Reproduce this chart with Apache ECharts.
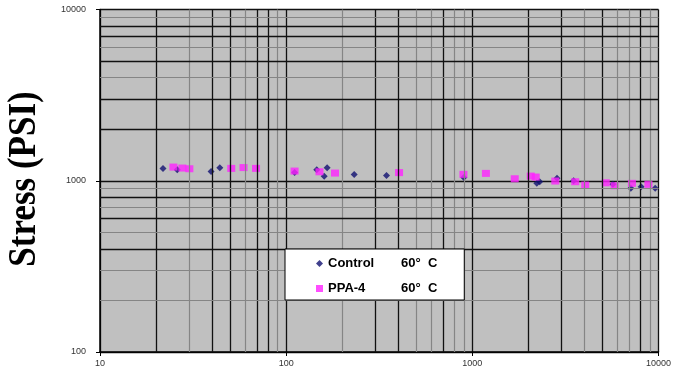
<!DOCTYPE html>
<html>
<head>
<meta charset="utf-8">
<script src="https://cdn.jsdelivr.net/npm/echarts@6/dist/echarts.min.js"></script>
<style>
html,body{margin:0;padding:0;background:#fff;}
#chart{width:674px;height:374px;}
</style>
</head>
<body>
<div id="chart"></div>
<script>
// ---- data ----
const controlX = [21.8, 26, 39.5, 44, 111, 146, 160, 166, 232, 346, 900, 2220, 2300, 2850, 3500, 5690, 7100, 8070, 9600];
const controlY = [1181, 1160, 1131, 1191, 1119, 1159, 1061, 1191, 1087, 1072, 1044, 966, 987, 1033, 1000, 953, 903, 923, 903];
const ppaX = [24.8, 27.7, 30.2, 50.7, 59, 68.9, 111, 151, 183, 404, 896, 1183, 1690, 2060, 2190, 2790, 3570, 4040, 5210, 5810, 7200, 8830];
const ppaY = [1202, 1186, 1175, 1181, 1194, 1181, 1139, 1128, 1109, 1116, 1090, 1104, 1027, 1065, 1051, 996, 987, 944, 973, 935, 966, 953];
const seriesNames = ['Control', 'PPA-4'];
const seriesTemp = '60°  C';
const xTicks = [10, 100, 1000, 10000];
const yTicks = [100, 1000, 10000];
const xGridDark = [20, 40, 50, 70, 80, 300, 400, 700, 2000, 3000, 5000, 8000];
const xGridLight = [30, 60, 90, 200, 500, 600, 800, 900, 4000, 6000, 7000, 9000];
const yGridDark = [2000, 3000, 5000, 7000, 8000, 400, 600, 800];
const yGridLight = [4000, 6000, 9000, 200, 300, 500, 700, 900];
const yAxisTitle = 'Stress (PSI)';

const pair = (xs, ys) => xs.map((x, i) => [x, ys[i]]);
const darkLine = {color: '#111', width: 1.3, type: 'solid'};
const lightLine = {color: '#858585', width: 1.2, type: 'solid'};
const gridLines = []
  .concat(xGridDark.map(v => ({xAxis: v, lineStyle: darkLine})))
  .concat(xGridLight.map(v => ({xAxis: v, lineStyle: lightLine})))
  .concat(yGridDark.map(v => ({yAxis: v, lineStyle: darkLine})))
  .concat(yGridLight.map(v => ({yAxis: v, lineStyle: lightLine})));

const chart = echarts.init(document.getElementById('chart'), null, {renderer: 'canvas'});
const labelFont = {fontFamily: 'Liberation Sans', fontSize: 9, color: '#333'};
chart.setOption({
  animation: false,
  grid: {left: 100, right: 14, top: 9.5, bottom: 22, show: true, backgroundColor: '#c0c0c0', borderWidth: 0},
  xAxis: {
    type: 'log', logBase: 10, min: xTicks[0], max: xTicks[xTicks.length - 1],
    axisLine: {lineStyle: {color: '#000', width: 1.5}},
    axisTick: {show: true, length: 4, lineStyle: {color: '#000'}},
    axisLabel: Object.assign({margin: 7, formatter: v => String(Math.round(v))}, labelFont),
    splitLine: {show: true, lineStyle: {color: '#111', width: 1.3}},
    minorTick: {show: false}, minorSplitLine: {show: false}
  },
  yAxis: {
    type: 'log', logBase: 10, min: yTicks[0], max: yTicks[yTicks.length - 1],
    axisLine: {show: true, lineStyle: {color: '#000', width: 1.5}},
    axisTick: {show: true, length: 4, lineStyle: {color: '#000'}},
    axisLabel: Object.assign({margin: 14, formatter: v => String(Math.round(v))}, labelFont),
    splitLine: {show: true, lineStyle: {color: '#111', width: 1.3}}
  },
  legend: {
    left: 285, top: 249, orient: 'vertical', itemGap: 12, z: 20,
    itemWidth: 7, itemHeight: 7, padding: [8, 27, 5, 31],
    backgroundColor: '#fff', borderColor: '#000', borderWidth: 1,
    data: [
      {name: seriesNames[0], icon: 'diamond', itemStyle: {color: '#101070'}},
      {name: seriesNames[1], icon: 'rect', itemStyle: {color: '#ff22ff'}}
    ],
    formatter: name => '{a|' + name + '}{b|' + seriesTemp + '}',
    textStyle: {
      rich: {
        a: {width: 73, fontFamily: 'Liberation Sans', fontWeight: 'bold', fontSize: 13, color: '#000', lineHeight: 14},
        b: {fontFamily: 'Liberation Sans', fontWeight: 'bold', fontSize: 13, color: '#000', lineHeight: 14}
      }
    }
  },
  graphic: [
    {type: 'text', x: 25, y: 179, rotation: Math.PI / 2, scaleY: 1.15,
     style: {text: yAxisTitle, fontFamily: 'Liberation Serif', fontWeight: 'bold', fontSize: 35, fill: '#000', align: 'center', verticalAlign: 'middle'}}
  ],
  series: [
    {type: 'scatter', data: [], z: 1, silent: true,
     markLine: {silent: true, symbol: ['none', 'none'], label: {show: false}, data: gridLines, animation: false}},
    {name: seriesNames[0], type: 'scatter', symbol: 'diamond', symbolSize: [7, 7], z: 3,
     itemStyle: {color: '#101070'}, data: pair(controlX, controlY)},
    {name: seriesNames[1], type: 'scatter', symbol: 'rect', symbolSize: [8, 7], z: 4,
     itemStyle: {color: '#ff22ff'}, data: pair(ppaX, ppaY)}
  ]
});
</script>
</body>
</html>
